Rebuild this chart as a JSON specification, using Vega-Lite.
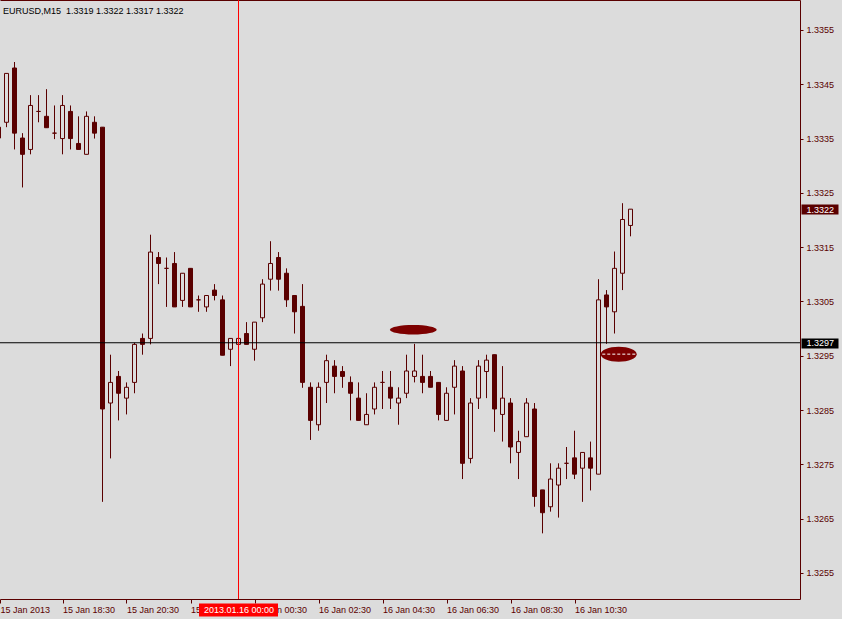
{
  "$schema": "https://vega.github.io/schema/vega-lite/v6.json",
  "width": 800,
  "height": 599,
  "autosize": {"type": "none"},
  "padding": {"left": 0, "top": 0, "right": 42, "bottom": 20},
  "background": "#dcdcdc",
  "config": {"view": {"stroke": null}, "font": "Liberation Sans", "scale": {"continuousPadding": 0}},
  "title": {"text": "EURUSD,M15\u00a0 1.3319 1.3322 1.3317 1.3322", "anchor": "start", "frame": "group", "orient": "top", "offset": -23, "baseline": "alphabetic", "dx": 3, "fontSize": 9, "font": "Liberation Sans", "fontWeight": "normal", "color": "#000000"},
  "datasets": {
    "candles": [
      {"t": "2013-01-15T16:30:00Z", "o": 1.33371, "h": 1.33375, "l": 1.33347, "c": 1.33351},
      {"t": "2013-01-15T16:45:00Z", "o": 1.33380, "h": 1.33470, "l": 1.33371, "c": 1.33470},
      {"t": "2013-01-15T17:00:00Z", "o": 1.33480, "h": 1.33491, "l": 1.33330, "c": 1.33360},
      {"t": "2013-01-15T17:15:00Z", "o": 1.33351, "h": 1.33360, "l": 1.33260, "c": 1.33321},
      {"t": "2013-01-15T17:30:00Z", "o": 1.33330, "h": 1.33430, "l": 1.33321, "c": 1.33411},
      {"t": "2013-01-15T17:45:00Z", "o": 1.33400, "h": 1.33430, "l": 1.33380, "c": 1.33400},
      {"t": "2013-01-15T18:00:00Z", "o": 1.33391, "h": 1.33441, "l": 1.33370, "c": 1.33370},
      {"t": "2013-01-15T18:15:00Z", "o": 1.33360, "h": 1.33411, "l": 1.33349, "c": 1.33360},
      {"t": "2013-01-15T18:30:00Z", "o": 1.33350, "h": 1.33430, "l": 1.33321, "c": 1.33411},
      {"t": "2013-01-15T18:45:00Z", "o": 1.33400, "h": 1.33411, "l": 1.33330, "c": 1.33350},
      {"t": "2013-01-15T19:00:00Z", "o": 1.33341, "h": 1.33391, "l": 1.33330, "c": 1.33330},
      {"t": "2013-01-15T19:15:00Z", "o": 1.33321, "h": 1.33400, "l": 1.33321, "c": 1.33391},
      {"t": "2013-01-15T19:30:00Z", "o": 1.33380, "h": 1.33391, "l": 1.33350, "c": 1.33360},
      {"t": "2013-01-15T19:45:00Z", "o": 1.33371, "h": 1.33371, "l": 1.32681, "c": 1.32852},
      {"t": "2013-01-15T20:00:00Z", "o": 1.32863, "h": 1.32952, "l": 1.32761, "c": 1.32901},
      {"t": "2013-01-15T20:15:00Z", "o": 1.32912, "h": 1.32922, "l": 1.32831, "c": 1.32881},
      {"t": "2013-01-15T20:30:00Z", "o": 1.32872, "h": 1.32901, "l": 1.32842, "c": 1.32892},
      {"t": "2013-01-15T20:45:00Z", "o": 1.32901, "h": 1.32974, "l": 1.32881, "c": 1.32971},
      {"t": "2013-01-15T21:00:00Z", "o": 1.32982, "h": 1.32991, "l": 1.32952, "c": 1.32971},
      {"t": "2013-01-15T21:15:00Z", "o": 1.32982, "h": 1.33173, "l": 1.32971, "c": 1.33141},
      {"t": "2013-01-15T21:30:00Z", "o": 1.33131, "h": 1.33141, "l": 1.33082, "c": 1.33120},
      {"t": "2013-01-15T21:45:00Z", "o": 1.33111, "h": 1.33131, "l": 1.33040, "c": 1.33111},
      {"t": "2013-01-15T22:00:00Z", "o": 1.33120, "h": 1.33141, "l": 1.33040, "c": 1.33040},
      {"t": "2013-01-15T22:15:00Z", "o": 1.33052, "h": 1.33102, "l": 1.33040, "c": 1.33102},
      {"t": "2013-01-15T22:30:00Z", "o": 1.33111, "h": 1.33111, "l": 1.33040, "c": 1.33040},
      {"t": "2013-01-15T22:45:00Z", "o": 1.33053, "h": 1.33061, "l": 1.33031, "c": 1.33053},
      {"t": "2013-01-15T23:00:00Z", "o": 1.33040, "h": 1.33061, "l": 1.33031, "c": 1.33061},
      {"t": "2013-01-15T23:15:00Z", "o": 1.33071, "h": 1.33082, "l": 1.33052, "c": 1.33061},
      {"t": "2013-01-15T23:30:00Z", "o": 1.33053, "h": 1.33061, "l": 1.32951, "c": 1.32951},
      {"t": "2013-01-15T23:45:00Z", "o": 1.32962, "h": 1.32982, "l": 1.32931, "c": 1.32982},
      {"t": "2013-01-16T00:00:00Z", "o": 1.32971, "h": 1.32982, "l": 1.32971, "c": 1.32982},
      {"t": "2013-01-16T00:15:00Z", "o": 1.32991, "h": 1.33012, "l": 1.32971, "c": 1.32971},
      {"t": "2013-01-16T00:30:00Z", "o": 1.32962, "h": 1.33012, "l": 1.32941, "c": 1.33012},
      {"t": "2013-01-16T00:45:00Z", "o": 1.33020, "h": 1.33091, "l": 1.33012, "c": 1.33082},
      {"t": "2013-01-16T01:00:00Z", "o": 1.33091, "h": 1.33161, "l": 1.33070, "c": 1.33120},
      {"t": "2013-01-16T01:15:00Z", "o": 1.33131, "h": 1.33141, "l": 1.33070, "c": 1.33091},
      {"t": "2013-01-16T01:30:00Z", "o": 1.33102, "h": 1.33111, "l": 1.33040, "c": 1.33053},
      {"t": "2013-01-16T01:45:00Z", "o": 1.33061, "h": 1.33061, "l": 1.32991, "c": 1.33031},
      {"t": "2013-01-16T02:00:00Z", "o": 1.33041, "h": 1.33082, "l": 1.32891, "c": 1.32901},
      {"t": "2013-01-16T02:15:00Z", "o": 1.32892, "h": 1.32901, "l": 1.32795, "c": 1.32831},
      {"t": "2013-01-16T02:30:00Z", "o": 1.32823, "h": 1.32901, "l": 1.32812, "c": 1.32892},
      {"t": "2013-01-16T02:45:00Z", "o": 1.32901, "h": 1.32952, "l": 1.32863, "c": 1.32941},
      {"t": "2013-01-16T03:00:00Z", "o": 1.32931, "h": 1.32942, "l": 1.32881, "c": 1.32912},
      {"t": "2013-01-16T03:15:00Z", "o": 1.32921, "h": 1.32931, "l": 1.32891, "c": 1.32912},
      {"t": "2013-01-16T03:30:00Z", "o": 1.32901, "h": 1.32912, "l": 1.32831, "c": 1.32881},
      {"t": "2013-01-16T03:45:00Z", "o": 1.32872, "h": 1.32901, "l": 1.32831, "c": 1.32831},
      {"t": "2013-01-16T04:00:00Z", "o": 1.32823, "h": 1.32881, "l": 1.32823, "c": 1.32842},
      {"t": "2013-01-16T04:15:00Z", "o": 1.32852, "h": 1.32901, "l": 1.32842, "c": 1.32892},
      {"t": "2013-01-16T04:30:00Z", "o": 1.32901, "h": 1.32922, "l": 1.32852, "c": 1.32901},
      {"t": "2013-01-16T04:45:00Z", "o": 1.32892, "h": 1.32922, "l": 1.32852, "c": 1.32872},
      {"t": "2013-01-16T05:00:00Z", "o": 1.32863, "h": 1.32892, "l": 1.32823, "c": 1.32872},
      {"t": "2013-01-16T05:15:00Z", "o": 1.32881, "h": 1.32952, "l": 1.32872, "c": 1.32922},
      {"t": "2013-01-16T05:30:00Z", "o": 1.32912, "h": 1.32972, "l": 1.32901, "c": 1.32922},
      {"t": "2013-01-16T05:45:00Z", "o": 1.32912, "h": 1.32952, "l": 1.32881, "c": 1.32901},
      {"t": "2013-01-16T06:00:00Z", "o": 1.32912, "h": 1.32922, "l": 1.32892, "c": 1.32892},
      {"t": "2013-01-16T06:15:00Z", "o": 1.32901, "h": 1.32901, "l": 1.32831, "c": 1.32842},
      {"t": "2013-01-16T06:30:00Z", "o": 1.32831, "h": 1.32892, "l": 1.32831, "c": 1.32881},
      {"t": "2013-01-16T06:45:00Z", "o": 1.32892, "h": 1.32942, "l": 1.32842, "c": 1.32931},
      {"t": "2013-01-16T07:00:00Z", "o": 1.32922, "h": 1.32931, "l": 1.32723, "c": 1.32752},
      {"t": "2013-01-16T07:15:00Z", "o": 1.32761, "h": 1.32872, "l": 1.32752, "c": 1.32863},
      {"t": "2013-01-16T07:30:00Z", "o": 1.32872, "h": 1.32942, "l": 1.32852, "c": 1.32931},
      {"t": "2013-01-16T07:45:00Z", "o": 1.32921, "h": 1.32952, "l": 1.32872, "c": 1.32942},
      {"t": "2013-01-16T08:00:00Z", "o": 1.32952, "h": 1.32952, "l": 1.32810, "c": 1.32852},
      {"t": "2013-01-16T08:15:00Z", "o": 1.32842, "h": 1.32931, "l": 1.32792, "c": 1.32872},
      {"t": "2013-01-16T08:30:00Z", "o": 1.32863, "h": 1.32872, "l": 1.32752, "c": 1.32782},
      {"t": "2013-01-16T08:45:00Z", "o": 1.32772, "h": 1.32812, "l": 1.32723, "c": 1.32792},
      {"t": "2013-01-16T09:00:00Z", "o": 1.32801, "h": 1.32872, "l": 1.32801, "c": 1.32863},
      {"t": "2013-01-16T09:15:00Z", "o": 1.32852, "h": 1.32863, "l": 1.32672, "c": 1.32691},
      {"t": "2013-01-16T09:30:00Z", "o": 1.32703, "h": 1.32703, "l": 1.32623, "c": 1.32661},
      {"t": "2013-01-16T09:45:00Z", "o": 1.32672, "h": 1.32752, "l": 1.32663, "c": 1.32723},
      {"t": "2013-01-16T10:00:00Z", "o": 1.32712, "h": 1.32752, "l": 1.32652, "c": 1.32743},
      {"t": "2013-01-16T10:15:00Z", "o": 1.32752, "h": 1.32782, "l": 1.32723, "c": 1.32752},
      {"t": "2013-01-16T10:30:00Z", "o": 1.32762, "h": 1.32812, "l": 1.32723, "c": 1.32732},
      {"t": "2013-01-16T10:45:00Z", "o": 1.32743, "h": 1.32772, "l": 1.32681, "c": 1.32772},
      {"t": "2013-01-16T11:00:00Z", "o": 1.32762, "h": 1.32792, "l": 1.32702, "c": 1.32743},
      {"t": "2013-01-16T11:15:00Z", "o": 1.32732, "h": 1.33091, "l": 1.32732, "c": 1.33053},
      {"t": "2013-01-16T11:30:00Z", "o": 1.33062, "h": 1.33071, "l": 1.32972, "c": 1.33040},
      {"t": "2013-01-16T11:45:00Z", "o": 1.33031, "h": 1.33142, "l": 1.32991, "c": 1.33111},
      {"t": "2013-01-16T12:00:00Z", "o": 1.33102, "h": 1.33231, "l": 1.33071, "c": 1.33201},
      {"t": "2013-01-16T12:15:00Z", "o": 1.3319, "h": 1.3322, "l": 1.3317, "c": 1.3322}
    ],
    "hline": [{"p": 1.32974}],
    "vline": [{"t": "2013-01-16T00:00:00Z"}]
  },
  "layer": [
    {
      "data": {"name": "candles"},
      "mark": {"type": "rule", "color": "#5a0000", "strokeWidth": 1, "clip": true},
      "encoding": {
        "x": {"field": "t", "type": "temporal",
          "scale": {"type": "utc", "nice": false, "padding": 0, "domain": [{"year": 2013, "month": 1, "date": 15, "hours": 16, "minutes": 32, "seconds": 48, "milliseconds": 750, "utc": true}, {"year": 2013, "month": 1, "date": 16, "hours": 17, "minutes": 32, "seconds": 48, "milliseconds": 750, "utc": true}]},
          "axis": {"orient": "bottom", "title": null, "grid": false,
            "values": [
              {"year": 2013, "month": 1, "date": 15, "hours": 16, "minutes": 32, "seconds": 48, "milliseconds": 750, "utc": true},
              {"year": 2013, "month": 1, "date": 15, "hours": 18, "minutes": 30, "utc": true},
              {"year": 2013, "month": 1, "date": 15, "hours": 20, "minutes": 30, "utc": true},
              {"year": 2013, "month": 1, "date": 15, "hours": 22, "minutes": 30, "utc": true},
              {"year": 2013, "month": 1, "date": 16, "hours": 0, "minutes": 30, "utc": true},
              {"year": 2013, "month": 1, "date": 16, "hours": 2, "minutes": 30, "utc": true},
              {"year": 2013, "month": 1, "date": 16, "hours": 4, "minutes": 30, "utc": true},
              {"year": 2013, "month": 1, "date": 16, "hours": 6, "minutes": 30, "utc": true},
              {"year": 2013, "month": 1, "date": 16, "hours": 8, "minutes": 30, "utc": true},
              {"year": 2013, "month": 1, "date": 16, "hours": 10, "minutes": 30, "utc": true}
            ],
            "labelExpr": "datum.index == 0 ? '15 Jan 2013' : utcFormat(datum.value, '%d %b %H:%M')",
            "domainColor": "#5a0000", "tickColor": "#5a0000", "tickSize": 4,
            "labelColor": "#5a0000", "labelFont": "Liberation Sans", "labelFontSize": 9,
            "labelAlign": "left", "labelBaseline": "top", "labelPadding": 2,
            "labelOverlap": false, "labelFlush": false, "labelBound": false, "zindex": 0}
        },
        "y": {"field": "l", "type": "quantitative",
          "scale": {"domain": [1.325021, 1.336052], "nice": false, "zero": false, "padding": 0},
          "axis": {"orient": "right", "title": null, "grid": false,
            "values": [1.3255, 1.3265, 1.3275, 1.3285, 1.3295, 1.3305, 1.3315, 1.3325, 1.3335, 1.3345, 1.3355],
            "format": ".4f",
            "domainColor": "#5a0000", "tickColor": "#5a0000", "tickSize": 3,
            "labelColor": "#5a0000", "labelFont": "Liberation Sans", "labelFontSize": 9,
            "labelAlign": "left", "labelBaseline": "middle", "labelPadding": 3,
            "labelOverlap": false, "zindex": 0}
        },
        "y2": {"field": "h"}
      }
    },
    {
      "data": {"name": "candles"},
      "mark": {"type": "bar", "size": 4, "stroke": "#5a0000", "strokeWidth": 1, "clip": true},
      "encoding": {
        "x": {"field": "t", "type": "temporal", "axis": null},
        "y": {"field": "o", "type": "quantitative",
          "scale": {"domain": [1.325021, 1.336052], "nice": false, "zero": false, "padding": 0},
          "axis": {"orient": "right", "title": null, "grid": false, "domain": false,
            "values": [1.3322], "format": ".4f", "offset": 1,
            "tickSize": 37, "tickWidth": 10, "tickColor": "#5a0000", "tickCap": "butt",
            "labelColor": "#ffffff", "labelFont": "Liberation Sans", "labelFontSize": 9,
            "labelAlign": "left", "labelBaseline": "middle", "labelPadding": -32,
            "labelOverlap": false, "zindex": 1}
        },
        "y2": {"field": "c"},
        "fill": {"condition": {"test": "datum.c >= datum.o", "value": "#dcdcdc"}, "value": "#5a0000"}
      }
    },
    {
      "data": {"name": "hline"},
      "mark": {"type": "rule", "color": "#000000", "strokeWidth": 1},
      "encoding": {
        "y": {"field": "p", "type": "quantitative",
          "scale": {"domain": [1.325021, 1.336052], "nice": false, "zero": false, "padding": 0},
          "axis": {"orient": "right", "title": null, "grid": false, "domain": false,
            "values": [1.32974], "format": ".4f", "offset": 1,
            "tickSize": 37, "tickWidth": 10, "tickColor": "#000000", "tickCap": "butt",
            "labelColor": "#ffffff", "labelFont": "Liberation Sans", "labelFontSize": 9,
            "labelAlign": "left", "labelBaseline": "middle", "labelPadding": -32,
            "labelOverlap": false, "zindex": 1}
        }
      }
    },
    {
      "data": {"name": "vline"},
      "mark": {"type": "rule", "color": "#ff0000", "strokeWidth": 1},
      "encoding": {
        "x": {"field": "t", "type": "temporal",
          "axis": {"orient": "bottom", "title": null, "grid": false, "domain": false,
            "values": [{"year": 2013, "month": 1, "date": 16, "hours": 0, "minutes": 0, "utc": true}],
            "labelExpr": "utcFormat(datum.value, '%Y.%m.%d %H:%M')",
            "offset": 4, "tickSize": 13, "tickWidth": 79, "tickColor": "#ff0000", "tickCap": "butt",
            "labelColor": "#ffffff", "labelFont": "Liberation Sans", "labelFontSize": 9,
            "labelAlign": "center", "labelBaseline": "top", "labelPadding": -11,
            "labelOverlap": false, "labelFlush": false, "labelBound": false, "zindex": 1}
        }
      }
    },
    {
      "data": {"values": [{"t": "2013-01-16T05:27:45Z", "p": 1.32998}], "format": {"parse": {"t": "date"}}},
      "mark": {"type": "point", "filled": true, "opacity": 1, "color": "#7d0000", "size": 2181,
        "shape": "M-1,0C-1,-0.1121,-0.5523,-0.203,0,-0.203C0.5523,-0.203,1,-0.1121,1,0C1,0.1121,0.5523,0.203,0,0.203C-0.5523,0.203,-1,0.1121,-1,0Z"},
      "encoding": {
        "x": {"field": "t", "type": "temporal",
          "axis": {"orient": "top", "title": null, "grid": false, "domain": true, "domainColor": "#5a0000", "ticks": false, "labels": false}},
        "y": {"field": "p", "type": "quantitative", "axis": null}
      }
    },
    {
      "data": {"values": [{"t": "2013-01-16T11:52:52Z", "t1": "2013-01-16T11:22:07Z", "t2": "2013-01-16T12:24:45Z", "p": 1.32953}], "format": {"parse": {"t": "date", "t1": "date", "t2": "date"}}},
      "layer": [
        {
          "mark": {"type": "point", "filled": true, "opacity": 1, "color": "#7d0000", "size": 1296,
            "shape": "M-1,0C-1,-0.2301,-0.5523,-0.4167,0,-0.4167C0.5523,-0.4167,1,-0.2301,1,0C1,0.2301,0.5523,0.4167,0,0.4167C-0.5523,0.4167,-1,0.2301,-1,0Z"},
          "encoding": {
            "x": {"field": "t", "type": "temporal", "axis": null},
            "y": {"field": "p", "type": "quantitative", "axis": null}
          }
        },
        {
          "mark": {"type": "rule", "color": "#ffffff", "strokeWidth": 1, "strokeDash": [3, 2]},
          "encoding": {
            "x": {"field": "t1", "type": "temporal", "axis": null},
            "x2": {"field": "t2"},
            "y": {"field": "p", "type": "quantitative", "axis": null}
          }
        }
      ]
    }
  ],
  "resolve": {"axis": {"x": "independent", "y": "independent"}}
}
